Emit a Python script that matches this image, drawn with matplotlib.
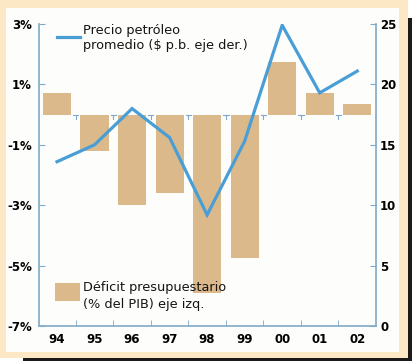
import matplotlib
matplotlib.use("Agg")
import matplotlib.pyplot as plt
from matplotlib.patches import Rectangle

# datos
years = ["94", "95", "96", "97", "98", "99", "00", "01", "02"]
deficit = [0.7, -1.2, -3.0, -2.6, -5.9, -4.75, 1.75, 0.7, 0.35]   # % del PIB, eje izq.
oil_price = [13.6, 15.0, 18.0, 15.6, 9.2, 15.3, 24.9, 19.3, 21.1]  # $ p.b., eje der.
left_ticks = [3, 1, -1, -3, -5, -7]
left_labels = ["3%", "1%", "-1%", "-3%", "-5%", "-7%"]
right_ticks = [0, 5, 10, 15, 20, 25]

BAR = "#dcb98b"
LINE = "#4a9ed6"
AXIS = "#7fa9c8"
CREAM = "#fde8c6"
FONT = ["Liberation Sans Narrow", "DejaVu Sans"]

W, H = 412, 361
fig = plt.figure(figsize=(W / 100, H / 100), dpi=100)
fig.patch.set_facecolor("white")


def px_rect(x0, y0, x1, y1, color, z):
    fig.add_artist(Rectangle((x0 / W, 1 - y1 / H), (x1 - x0) / W, (y1 - y0) / H,
                             transform=fig.transFigure, facecolor=color,
                             edgecolor="none", zorder=z))


# marco: sombra oscura, borde crema y panel blanco
px_rect(23, 18, 412, 361, "#1c1a19", -3)
px_rect(0, 0, 408, 358, CREAM, -2)
px_rect(6, 8, 399, 352, "#fdfdfc", -1)

ax = fig.add_axes([39 / W, 1 - 326 / H, (376 - 39) / W, (326 - 24) / H])
ax.patch.set_alpha(0)
x = list(range(len(years)))

ax.bar(x, deficit, width=0.75, color=BAR, zorder=1)
ax.set_xlim(-0.48, len(years) - 0.5)
ax.set_ylim(-7, 3)

# pequeñas marcas sobre la línea de cero
for b in [i + 0.5 for i in x[:-1]]:
    ax.plot([b - 0.07, b + 0.07], [0, 0], color=AXIS, lw=0.8, zorder=0.5)
    ax.plot([b, b], [0, -0.13], color=AXIS, lw=0.8, zorder=0.5)

for side in ["top", "right"]:
    ax.spines[side].set_visible(False)
for side in ["left", "bottom"]:
    ax.spines[side].set_color(AXIS)
    ax.spines[side].set_linewidth(1.2)

ax.set_yticks(left_ticks)
ax.set_yticklabels(left_labels, family=FONT, fontsize=8.5, fontweight="bold")
ax.tick_params(axis="y", direction="in", length=4, color=AXIS, pad=5)
ax.set_xticks(x)
ax.set_xticklabels(years, family=FONT, fontsize=8.5, fontweight="bold")
ax.set_xticks([i + 0.5 for i in x[:-1]], minor=True)
ax.tick_params(axis="x", which="major", length=0, pad=5)
ax.tick_params(axis="x", which="minor", direction="in", length=4, color=AXIS)

ax2 = ax.twinx()
ax2.plot(x, oil_price, color=LINE, lw=2.3, solid_joinstyle="miter", zorder=3)
ax2.set_ylim(0, 25)
ax2.set_yticks(right_ticks)
ax2.set_yticklabels([str(t) for t in right_ticks], family=FONT, fontsize=8.5,
                    fontweight="bold")
ax2.tick_params(axis="y", direction="in", length=4, color=AXIS, pad=3)
for side in ["top", "left", "bottom"]:
    ax2.spines[side].set_visible(False)
ax2.spines["right"].set_color(AXIS)
ax2.spines["right"].set_linewidth(1.2)


def ay(py):
    # posición vertical en píxeles -> fracción del eje
    return (326 - py) / 302


# leyendas dentro del gráfico
ax2.plot([0.053, 0.122], [ay(37), ay(37)], transform=ax2.transAxes, color=LINE,
         lw=2.3, clip_on=False)
ax2.text(0.131, ay(38), "Precio petróleo\npromedio ($ p.b. eje der.)",
         transform=ax2.transAxes, family=FONT, fontsize=9.3, va="center",
         ha="left", linespacing=1.2, color="#141414")
ax2.add_patch(Rectangle((0.048, ay(301)), 25 / 337, 18 / 302,
                        transform=ax2.transAxes, facecolor=BAR, edgecolor="none"))
ax2.text(0.131, ay(296), "Déficit presupuestario\n(% del PIB) eje izq.",
         transform=ax2.transAxes, family=FONT, fontsize=9.3, va="center",
         ha="left", linespacing=1.35, color="#141414")

fig.savefig("out.png", dpi=100)
